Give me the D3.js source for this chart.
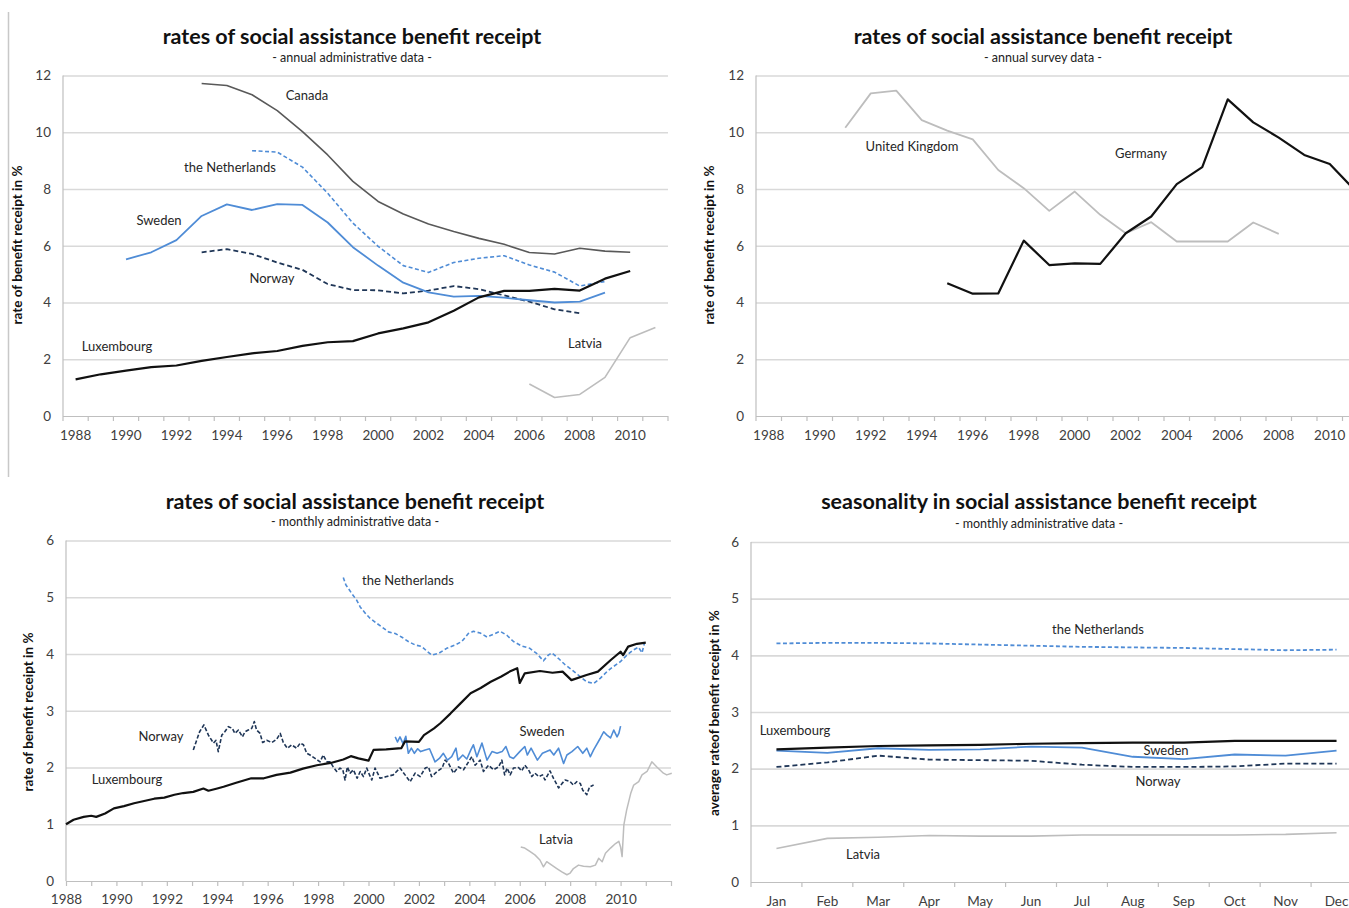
<!DOCTYPE html>
<html><head><meta charset="utf-8">
<script src="https://cdn.jsdelivr.net/npm/d3@7"></script>
<style>
body{margin:0;background:#fff;}
svg{display:block;font-family:Lato,"Open Sans",sans-serif;}
</style></head><body>
<svg id="chart" width="1349" height="908"></svg>
<script>
// ---------- categories & tick labels ----------
const annualYears = [1988,1989,1990,1991,1992,1993,1994,1995,1996,1997,1998,1999,2000,2001,2002,2003,2004,2005,2006,2007,2008,2009,2010,2011];
const annualLabels = [1988,1990,1992,1994,1996,1998,2000,2002,2004,2006,2008,2010];
const monthlyTickYears = [1988,1989,1990,1991,1992,1993,1994,1995,1996,1997,1998,1999,2000,2001,2002,2003,2004,2005,2006,2007,2008,2009,2010,2011,2012];
const monthlyLabels = [1988,1990,1992,1994,1996,1998,2000,2002,2004,2006,2008,2010];
const months = ["Jan","Feb","Mar","Apr","May","Jun","Jul","Aug","Sep","Oct","Nov","Dec"];
const yTicks12 = [0,2,4,6,8,10,12];
const yTicks6 = [0,1,2,3,4,5,6];

// ---------- panel 1: annual administrative data ----------
const canadaStart = 1993;
const canadaValues = [11.72,11.65,11.32,10.76,10.02,9.2,8.27,7.56,7.12,6.77,6.5,6.26,6.05,5.76,5.71,5.91,5.81,5.77];
const nlAnnualStart = 1995;
const nlAnnualValues = [9.35,9.3,8.77,7.85,6.8,5.98,5.3,5.06,5.41,5.56,5.65,5.32,5.07,4.58,4.74];
const swedenAnnualStart = 1990;
const swedenAnnualValues = [5.52,5.77,6.2,7.05,7.46,7.26,7.47,7.44,6.82,5.95,5.3,4.7,4.36,4.21,4.23,4.17,4.08,4.0,4.03,4.35];
const norwayAnnualStart = 1993;
const norwayAnnualValues = [5.77,5.88,5.71,5.41,5.15,4.65,4.44,4.43,4.32,4.42,4.58,4.47,4.25,4.03,3.76,3.62];
const luxAnnualStart = 1988;
const luxAnnualValues = [1.29,1.47,1.6,1.72,1.78,1.94,2.08,2.21,2.29,2.47,2.6,2.64,2.91,3.09,3.3,3.71,4.18,4.41,4.41,4.48,4.42,4.84,5.11];
const latviaAnnualStart = 2006;
const latviaAnnualValues = [1.13,0.65,0.76,1.36,2.76,3.12];

// ---------- panel 2: annual survey data ----------
const ukStart = 1991;
const ukValues = [10.16,11.37,11.47,10.43,10.06,9.75,8.67,8.03,7.23,7.91,7.09,6.44,6.83,6.15,6.15,6.15,6.82,6.42];
const germanyStart = 1995;
const germanyValues = [4.68,4.31,4.32,6.18,5.32,5.38,5.36,6.44,7.03,8.17,8.77,11.16,10.35,9.81,9.2,8.88,7.94];

// ---------- panel 3: monthly administrative data [year, value] ----------
const luxMonthly = [[1988.0,1.0],[1988.3,1.08],[1988.7,1.13],[1989.0,1.15],[1989.2,1.13],[1989.55,1.19],[1989.9,1.28],[1990.3,1.32],[1990.7,1.37],[1991.1,1.41],[1991.5,1.45],[1991.9,1.47],[1992.3,1.52],[1992.65,1.55],[1993.05,1.57],[1993.45,1.63],[1993.65,1.59],[1994.0,1.63],[1994.25,1.66],[1994.75,1.73],[1995.35,1.81],[1995.85,1.81],[1996.35,1.87],[1996.9,1.91],[1997.4,1.98],[1997.95,2.04],[1998.5,2.08],[1999.0,2.14],[1999.3,2.2],[1999.6,2.16],[2000.0,2.12],[2000.2,2.31],[2000.7,2.32],[2001.3,2.34],[2001.45,2.46],[2002.0,2.45],[2002.2,2.57],[2002.6,2.69],[2002.85,2.78],[2003.25,2.95],[2003.65,3.13],[2004.05,3.31],[2004.45,3.4],[2004.85,3.51],[2005.25,3.6],[2005.6,3.69],[2005.9,3.75],[2006.0,3.49],[2006.2,3.66],[2006.8,3.7],[2007.3,3.67],[2007.7,3.69],[2008.05,3.54],[2008.65,3.63],[2009.1,3.69],[2009.6,3.89],[2010.0,4.04],[2010.1,3.98],[2010.3,4.13],[2010.65,4.18],[2011.0,4.2]];
const nlMonthly = [[1999.0,5.35],[1999.1,5.22],[1999.33,5.07],[1999.53,4.95],[1999.67,4.83],[1999.87,4.72],[2000.06,4.63],[2000.33,4.54],[2000.52,4.48],[2000.79,4.39],[2001.06,4.36],[2001.31,4.3],[2001.58,4.22],[2001.85,4.16],[2002.12,4.13],[2002.34,4.04],[2002.51,3.98],[2002.78,4.01],[2003.1,4.1],[2003.44,4.16],[2003.7,4.22],[2003.96,4.36],[2004.16,4.4],[2004.43,4.37],[2004.7,4.3],[2004.96,4.35],[2005.22,4.4],[2005.49,4.33],[2005.75,4.22],[2006.08,4.14],[2006.4,4.1],[2006.67,4.01],[2006.94,3.88],[2007.13,3.98],[2007.27,4.02],[2007.54,3.92],[2007.8,3.81],[2008.07,3.72],[2008.4,3.6],[2008.66,3.51],[2008.93,3.48],[2009.19,3.57],[2009.46,3.69],[2009.72,3.78],[2009.98,3.86],[2010.25,3.98],[2010.5,4.07],[2010.71,4.12],[2010.85,4.02],[2010.94,4.18]];
const swedenMonthly = [[2001.06,2.54],[2001.15,2.45],[2001.25,2.54],[2001.37,2.42],[2001.48,2.55],[2001.58,2.25],[2001.7,2.34],[2001.82,2.25],[2001.95,2.33],[2002.07,2.28],[2002.25,2.31],[2002.42,2.33],[2002.64,2.1],[2002.81,2.16],[2002.97,2.25],[2003.13,2.13],[2003.3,2.19],[2003.47,2.34],[2003.55,2.13],[2003.74,2.22],[2003.9,2.15],[2004.06,2.31],[2004.16,2.4],[2004.3,2.19],[2004.5,2.43],[2004.7,2.13],[2004.9,2.28],[2005.1,2.25],[2005.3,2.28],[2005.45,2.37],[2005.6,2.19],[2005.75,2.16],[2006.0,2.28],[2006.2,2.37],[2006.3,2.22],[2006.45,2.34],[2006.7,2.13],[2006.9,2.25],[2007.2,2.31],[2007.35,2.22],[2007.54,2.34],[2007.74,2.07],[2007.87,2.22],[2008.07,2.28],[2008.3,2.37],[2008.5,2.25],[2008.66,2.34],[2008.8,2.19],[2008.93,2.31],[2009.2,2.52],[2009.33,2.63],[2009.46,2.57],[2009.6,2.52],[2009.73,2.66],[2009.86,2.54],[2009.93,2.6],[2010.0,2.73]];
const norwayMonthly = [[1993.05,2.31],[1993.3,2.63],[1993.47,2.75],[1993.65,2.57],[1993.85,2.43],[1993.95,2.48],[1994.04,2.28],[1994.18,2.57],[1994.3,2.63],[1994.44,2.72],[1994.6,2.69],[1994.7,2.6],[1994.84,2.66],[1995.0,2.54],[1995.1,2.63],[1995.23,2.66],[1995.37,2.69],[1995.47,2.81],[1995.56,2.66],[1995.7,2.6],[1995.8,2.44],[1995.96,2.48],[1996.16,2.44],[1996.36,2.5],[1996.5,2.6],[1996.62,2.44],[1996.78,2.34],[1996.95,2.4],[1997.15,2.34],[1997.29,2.43],[1997.42,2.4],[1997.55,2.25],[1997.68,2.22],[1997.88,2.16],[1998.08,2.1],[1998.2,2.22],[1998.35,2.1],[1998.48,2.1],[1998.6,2.01],[1998.74,1.93],[1998.87,1.99],[1998.98,1.96],[1999.07,1.78],[1999.16,2.01],[1999.27,1.9],[1999.4,1.96],[1999.55,1.81],[1999.67,1.93],[1999.8,1.84],[1999.93,1.99],[2000.04,1.87],[2000.13,1.78],[2000.26,1.99],[2000.46,1.81],[2000.72,1.84],[2000.98,1.87],[2001.25,1.99],[2001.45,1.87],[2001.65,1.75],[2001.85,1.9],[2002.05,1.84],[2002.25,1.99],[2002.38,2.01],[2002.5,1.84],[2002.72,1.93],[2002.92,1.99],[2003.04,2.13],[2003.18,2.07],[2003.37,1.9],[2003.57,2.01],[2003.77,1.96],[2003.97,2.1],[2004.1,2.19],[2004.23,2.04],[2004.43,2.13],[2004.56,1.93],[2004.76,2.04],[2004.96,1.96],[2005.16,2.01],[2005.29,2.13],[2005.4,1.87],[2005.5,1.99],[2005.62,1.87],[2005.75,1.99],[2005.95,2.0],[2006.08,1.94],[2006.2,2.04],[2006.35,1.96],[2006.48,1.84],[2006.6,1.9],[2006.76,1.84],[2006.9,1.87],[2007.0,1.78],[2007.2,1.94],[2007.34,1.81],[2007.54,1.64],[2007.68,1.72],[2007.8,1.78],[2008.0,1.75],[2008.13,1.69],[2008.26,1.75],[2008.4,1.72],[2008.5,1.6],[2008.66,1.52],[2008.77,1.66],[2008.93,1.69]];
const latviaMonthly = [[2006.04,0.6],[2006.2,0.58],[2006.4,0.52],[2006.6,0.46],[2006.8,0.37],[2006.94,0.25],[2007.07,0.34],[2007.27,0.28],[2007.47,0.22],[2007.67,0.16],[2007.87,0.11],[2008.0,0.14],[2008.13,0.22],[2008.33,0.28],[2008.53,0.26],[2008.8,0.25],[2009.0,0.28],[2009.13,0.4],[2009.27,0.34],[2009.4,0.49],[2009.6,0.58],[2009.8,0.66],[2009.93,0.7],[2010.0,0.6],[2010.06,0.43],[2010.13,0.99],[2010.24,1.25],[2010.4,1.54],[2010.52,1.69],[2010.72,1.75],[2010.85,1.87],[2011.05,1.93],[2011.24,2.1],[2011.44,2.01],[2011.7,1.9],[2011.83,1.87],[2012.03,1.9]];

// ---------- panel 4: seasonality ----------
const nlSeason = [4.21,4.22,4.22,4.21,4.19,4.17,4.15,4.14,4.13,4.11,4.09,4.1];
const luxSeason = [2.34,2.37,2.4,2.41,2.42,2.44,2.45,2.46,2.46,2.49,2.49,2.49];
const swedenSeason = [2.32,2.28,2.36,2.33,2.34,2.39,2.37,2.21,2.17,2.25,2.23,2.32];
const norwaySeason = [2.03,2.11,2.23,2.16,2.15,2.14,2.07,2.03,2.03,2.04,2.09,2.09];
const latviaSeason = [0.59,0.77,0.79,0.82,0.81,0.81,0.83,0.83,0.83,0.83,0.84,0.87];

// ---------- styles ----------
const BLUE = "#4f8cd6", NAVY = "#1f3657", BLACK = "#111", DGRAY = "#595959", LGRAY = "#bdbdbd";
const GRID = "#d9d9d9", AXIS = "#bfbfbf", TXT = "#404040";

const svg = d3.select("#chart");

// left frame line
svg.append("line").attr("x1",8.5).attr("x2",8.5).attr("y1",12).attr("y2",477)
  .attr("stroke","#c8c8c8").attr("stroke-width",1.5);

function titles(cx, yT, yS, t, s){
  svg.append("text").attr("x",cx).attr("y",yT).attr("text-anchor","middle")
    .attr("font-size",21.5).attr("font-weight",700).attr("fill","#111").text(t);
  svg.append("text").attr("x",cx).attr("y",yS).attr("text-anchor","middle")
    .attr("font-size",12.5).attr("fill","#222").text(s);
}
function yTitle(x, y, t){
  svg.append("text").attr("transform",`translate(${x},${y}) rotate(-90)`)
    .attr("text-anchor","middle").attr("font-size",13.5).attr("font-weight",700)
    .attr("fill","#111").text(t);
}
function grid(y, ticks, x0, x1){
  const g = svg.append("g").attr("transform",`translate(${x0},0)`)
    .call(d3.axisLeft(y).tickValues(ticks).tickSize(-(x1-x0)).tickPadding(12).tickFormat(d3.format("d")));
  g.select(".domain").remove();
  g.selectAll(".tick line").attr("stroke",GRID).attr("stroke-width",1.6);
  g.selectAll(".tick").filter(d=>d===0).select("line").attr("stroke",AXIS).attr("stroke-width",1.2);
  g.selectAll(".tick text").attr("font-size",13.5).attr("fill",TXT).attr("font-family","Lato,sans-serif");
  svg.append("line").attr("x1",x0).attr("x2",x0).attr("y1",y.range()[1]).attr("y2",y.range()[0])
    .attr("stroke",AXIS).attr("stroke-width",1.2);
}
function bandAxis(x, y0, labels){
  const g = svg.append("g").attr("transform",`translate(0,${y0})`)
    .call(d3.axisBottom(x).tickValues(labels).tickSize(0).tickPadding(14));
  g.select(".domain").remove();
  g.selectAll(".tick text").attr("font-size",13.5).attr("fill",TXT).attr("font-family","Lato,sans-serif");
  const bounds = x.domain().map(d=>x(d)).concat([x(x.domain()[x.domain().length-1])+x.bandwidth()]);
  svg.append("g").selectAll("line").data(bounds).join("line")
    .attr("x1",d=>d).attr("x2",d=>d).attr("y1",y0).attr("y2",y0+5)
    .attr("stroke",AXIS).attr("stroke-width",1.2);
}
function label(x, y, t){
  svg.append("text").attr("x",x).attr("y",y).attr("text-anchor","middle")
    .attr("dominant-baseline","middle").attr("font-size",13).attr("fill","#262626").text(t);
}
function path(data, line, color, width, dash){
  const p = svg.append("path").datum(data).attr("d",line).attr("fill","none")
    .attr("stroke",color).attr("stroke-width",width).attr("stroke-linejoin","round");
  if (dash) p.attr("stroke-dasharray",dash);
}
const toPairs = (start, vals) => vals.map((v,i)=>[start+i, v]);

// ================= Panel 1 =================
{
  const x = d3.scaleBand().domain(annualYears).range([63,668]);
  const y = d3.scaleLinear().domain([0,12]).range([416,75.5]);
  grid(y, yTicks12, 63, 668);
  bandAxis(x, 416, annualLabels);
  titles(352, 44, 62, "rates of social assistance benefit receipt", "- annual administrative data -");
  yTitle(22, 245, "rate of benefit receipt in %");
  const line = d3.line().x(d=>x(d[0])+x.bandwidth()/2).y(d=>y(d[1]));
  path(toPairs(latviaAnnualStart, latviaAnnualValues), line, LGRAY, 1.6);
  path(toPairs(canadaStart, canadaValues), line, DGRAY, 1.6);
  path(toPairs(nlAnnualStart, nlAnnualValues), line, BLUE, 1.6, "4,2.5");
  path(toPairs(norwayAnnualStart, norwayAnnualValues), line, NAVY, 1.8, "5,3");
  path(toPairs(swedenAnnualStart, swedenAnnualValues), line, BLUE, 1.8);
  path(toPairs(luxAnnualStart, luxAnnualValues), line, BLACK, 2.2);
  label(307, 97, "Canada");
  label(230, 169, "the Netherlands");
  label(159, 222, "Sweden");
  label(272, 280, "Norway");
  label(117, 348, "Luxembourg");
  label(585, 345, "Latvia");
}

// ================= Panel 2 =================
{
  const x = d3.scaleBand().domain(annualYears).range([756,1368]);
  const y = d3.scaleLinear().domain([0,12]).range([416,75.5]);
  grid(y, yTicks12, 756, 1368);
  bandAxis(x, 416, annualLabels);
  titles(1043, 44, 62, "rates of social assistance benefit receipt", "- annual survey data -");
  yTitle(714, 245, "rate of benefit receipt in %");
  const line = d3.line().x(d=>x(d[0])+x.bandwidth()/2).y(d=>y(d[1]));
  path(toPairs(ukStart, ukValues), line, LGRAY, 1.8);
  path(toPairs(germanyStart, germanyValues), line, BLACK, 2.2);
  label(912, 148, "United Kingdom");
  label(1141, 155, "Germany");
}

// ================= Panel 3 =================
{
  const x = d3.scaleLinear().domain([1988,2012]).range([66,671]);
  const y = d3.scaleLinear().domain([0,6]).range([881,540.5]);
  grid(y, yTicks6, 66, 671);
  const g = svg.append("g").attr("transform","translate(0,881)")
    .call(d3.axisBottom(x).tickValues(monthlyTickYears).tickSize(5).tickPadding(8)
      .tickFormat(d=>monthlyLabels.includes(d) ? String(d) : ""));
  g.select(".domain").remove();
  g.selectAll(".tick line").attr("stroke",AXIS).attr("stroke-width",1.2);
  g.selectAll(".tick text").attr("font-size",13.5).attr("fill",TXT).attr("font-family","Lato,sans-serif");
  titles(355, 509, 526, "rates of social assistance benefit receipt", "- monthly administrative data -");
  yTitle(33, 712, "rate of benefit receipt in %");
  const line = d3.line().x(d=>x(d[0])).y(d=>y(d[1]));
  path(latviaMonthly, line, LGRAY, 1.5);
  path(norwayMonthly, line, NAVY, 1.6, "4,2");
  path(swedenMonthly, line, BLUE, 1.6);
  path(nlMonthly, line, BLUE, 1.6, "4,2.5");
  path(luxMonthly, line, BLACK, 2.2);
  label(408, 582, "the Netherlands");
  label(161, 738, "Norway");
  label(542, 733, "Sweden");
  label(127, 781, "Luxembourg");
  label(556, 841, "Latvia");
}

// ================= Panel 4 =================
{
  const x = d3.scaleBand().domain(months).range([751,1362]);
  const y = d3.scaleLinear().domain([0,6]).range([882,542]);
  grid(y, yTicks6, 751, 1368);
  bandAxis(x, 882, months);
  titles(1039, 509, 528, "seasonality in social assistance benefit receipt", "- monthly administrative data -");
  yTitle(719, 713, "average rateof benefit receipt in %");
  const line = d3.line().x((d,i)=>x(months[i])+x.bandwidth()/2).y(d=>y(d));
  path(latviaSeason, line, LGRAY, 1.6);
  path(norwaySeason, line, NAVY, 1.8, "5,3");
  path(swedenSeason, line, BLUE, 1.8);
  path(luxSeason, line, BLACK, 2.2);
  path(nlSeason, line, BLUE, 1.8, "4,2.5");
  label(1098, 631, "the Netherlands");
  label(795, 732, "Luxembourg");
  label(1166, 752, "Sweden");
  label(1158, 783, "Norway");
  label(863, 856, "Latvia");
}
</script>
</body></html>
